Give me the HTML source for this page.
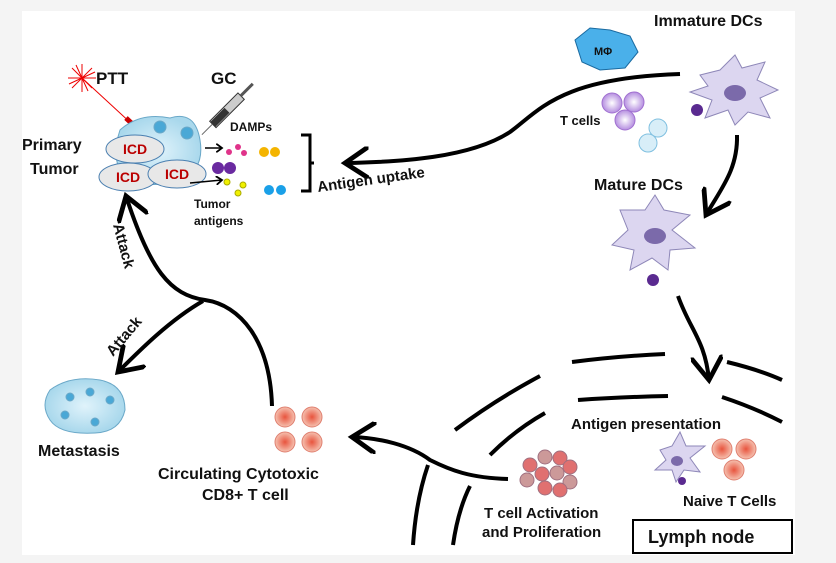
<!DOCTYPE html>
<html><head><style>
body{margin:0;width:836px;height:563px;background:#f4f4f4;overflow:hidden;font-family:"Liberation Sans",Arial,sans-serif;}
svg{position:absolute;left:0;top:0}
text{font-family:"Liberation Sans",Arial,sans-serif;font-weight:bold;fill:#111}
</style></head><body>
<svg width="836" height="563" viewBox="0 0 836 563">
<defs>
<marker id="a" markerWidth="6" markerHeight="6" refX="4" refY="3" orient="auto" markerUnits="strokeWidth"><path d="M0,0 L4,3 L0,6" fill="none" stroke="#000" stroke-width="1.2"/></marker>
<marker id="s" markerWidth="8" markerHeight="8" refX="6" refY="4" orient="auto" markerUnits="strokeWidth"><path d="M0,0 L6,4 L0,8" fill="none" stroke="#000" stroke-width="1.2"/></marker>
<radialGradient id="blue"><stop offset="0" stop-color="#e0f3fb"/><stop offset="1" stop-color="#a9d8ec"/></radialGradient>
<radialGradient id="red"><stop offset="0" stop-color="#e8543e"/><stop offset="1" stop-color="#f5c1b0"/></radialGradient>
<radialGradient id="pur"><stop offset="0" stop-color="#fff"/><stop offset="1" stop-color="#b58ee0"/></radialGradient>
</defs>
<rect x="22" y="11" width="773" height="544" fill="#fff"/>
<!-- laser -->
<g stroke="#e00" stroke-width="1">
<line x1="68" y1="78" x2="96" y2="78"/><line x1="82" y1="64" x2="82" y2="92"/><line x1="72" y1="68" x2="92" y2="88"/><line x1="72" y1="88" x2="92" y2="68"/><line x1="76" y1="65" x2="88" y2="91"/><line x1="69" y1="84" x2="95" y2="72"/>
<line x1="82" y1="78" x2="160" y2="150"/></g>
<line x1="126" y1="118" x2="160" y2="150" stroke="#c00" stroke-width="5"/>
<!-- tumor cells -->
<g fill="url(#blue)" stroke="#6aa8c8">
<path d="M120 130 Q140 112 170 118 Q195 110 200 140 Q205 170 180 180 Q150 190 125 178 Q110 160 120 130Z"/>
<circle cx="160" cy="127" r="6" fill="#4aa8d6"/><circle cx="187" cy="133" r="6" fill="#4aa8d6"/>
</g>
<g fill="#e8e8e8" stroke="#4a7fb0" stroke-width="1">
<ellipse cx="135" cy="149" rx="29" ry="14"/><ellipse cx="128" cy="177" rx="29" ry="14"/><ellipse cx="177" cy="174" rx="29" ry="14"/></g>
<g font-size="14" text-anchor="middle"><text x="135" y="154" fill="#b00" style="fill:#b00">ICD</text><text x="128" y="182" style="fill:#b00">ICD</text><text x="177" y="179" style="fill:#b00">ICD</text></g>
<!-- syringe -->
<g transform="rotate(-45 233 105)"><rect x="205" y="100" width="40" height="9" fill="#ccc" stroke="#333"/><rect x="205" y="101" width="20" height="7" fill="#333"/><line x1="245" y1="104" x2="262" y2="104" stroke="#555" stroke-width="3"/><line x1="205" y1="104" x2="190" y2="104" stroke="#666"/></g>
<text x="96" y="84" font-size="17">PTT</text>
<text x="211" y="84" font-size="17">GC</text>
<text x="22" y="150" font-size="16">Primary</text>
<text x="30" y="174" font-size="16">Tumor</text>
<text x="230" y="131" font-size="12">DAMPs</text>
<text x="194" y="208" font-size="12">Tumor</text>
<text x="194" y="225" font-size="12">antigens</text>
<g stroke="#000" stroke-width="1.5" fill="none"><line x1="205" y1="148" x2="222" y2="148" marker-end="url(#a)"/><line x1="190" y1="183" x2="222" y2="180" marker-end="url(#a)"/></g>
<circle cx="229" cy="152" r="3" fill="#e0338a"/><circle cx="238" cy="147" r="3" fill="#e0338a"/><circle cx="244" cy="153" r="3" fill="#e0338a"/>
<circle cx="264" cy="152" r="5" fill="#f4b400"/><circle cx="275" cy="152" r="5" fill="#f4b400"/>
<circle cx="218" cy="168" r="6" fill="#6a2aa0"/><circle cx="230" cy="168" r="6" fill="#6a2aa0"/>
<circle cx="227" cy="182" r="3" fill="#f0f000" stroke="#aa0"/><circle cx="243" cy="185" r="3" fill="#f0f000" stroke="#aa0"/><circle cx="238" cy="193" r="3" fill="#f0f000" stroke="#aa0"/>
<circle cx="269" cy="190" r="5" fill="#1aa0e8"/><circle cx="281" cy="190" r="5" fill="#1aa0e8"/>
<path d="M301 135 H310 V191 H301 M310 163 H314" fill="none" stroke="#000" stroke-width="3"/>
<!-- big arrows -->
<g stroke="#000" stroke-width="4" fill="none" marker-end="url(#s)">
<path d="M680 74 C560 78 540 110 510 132 C470 158 400 162 345 163"/>
<path d="M737 135 C738 170 720 190 706 215"/>
<path d="M678 296 C690 330 705 340 709 380"/>
<path d="M508 479 C470 478 450 470 430 460 C410 445 380 438 352 437"/>
<path d="M272 406 C270 340 240 305 205 300 C170 295 150 270 126 196"/>
<path d="M203 301 C170 320 140 350 118 372"/>
</g>
<g stroke="#000" stroke-width="4" fill="none">
<path d="M455 430 Q495 400 540 376"/><path d="M572 362 Q620 356 665 354"/><path d="M727 362 Q760 370 782 380"/>
<path d="M490 455 Q515 430 545 413"/><path d="M578 400 Q620 397 668 396"/><path d="M722 397 Q755 408 782 422"/>
<path d="M413 545 Q416 500 428 465"/><path d="M453 545 Q458 510 470 486"/>
</g>
<text x="318" y="192" font-size="15" transform="rotate(-8 318 192)">Antigen uptake</text>
<text x="0" y="0" font-size="15" transform="translate(113 225) rotate(75)">Attack</text>
<text x="0" y="0" font-size="15" transform="translate(113 357) rotate(-50)">Attack</text>
<!-- DC cells -->
<g fill="#dcd6f0" stroke="#8e87b8">
<path d="M700 75 L720 70 L735 55 L742 68 L765 62 L757 80 L778 90 L760 98 L770 118 L748 112 L735 125 L728 110 L705 118 L712 100 L690 92 L708 86Z"/>
<path d="M620 210 L645 210 L655 195 L664 210 L690 215 L672 230 L695 248 L670 250 L668 270 L652 258 L630 270 L634 250 L612 245 L628 230Z"/>
<path d="M660 450 L672 446 L680 432 L686 446 L705 446 L690 458 L700 472 L684 470 L676 482 L672 470 L655 470 L666 460Z"/>
</g>
<ellipse cx="735" cy="93" rx="11" ry="8" fill="#7b6aaa"/><circle cx="697" cy="110" r="6" fill="#5a2a90"/>
<ellipse cx="655" cy="236" rx="11" ry="8" fill="#7b6aaa"/><circle cx="653" cy="280" r="6" fill="#5a2a90"/>
<ellipse cx="677" cy="461" rx="6" ry="5" fill="#7b6aaa"/><circle cx="682" cy="481" r="4" fill="#5a2a90"/>
<path d="M575 40 L590 28 L610 30 L630 36 L638 52 L625 68 L600 70 L582 62Z" fill="#4ab0ea" stroke="#1a6aa0"/>
<text x="594" y="55" font-size="11">MΦ</text>
<g stroke="#a070d0"><circle cx="612" cy="103" r="10" fill="url(#pur)"/><circle cx="634" cy="102" r="10" fill="url(#pur)"/><circle cx="625" cy="120" r="10" fill="url(#pur)"/></g>
<g stroke="#80c0e0"><circle cx="658" cy="128" r="9" fill="#d8eef8"/><circle cx="648" cy="143" r="9" fill="#d8eef8"/></g>
<text x="654" y="26" font-size="16">Immature DCs</text>
<text x="560" y="125" font-size="13">T cells</text>
<text x="594" y="190" font-size="16">Mature DCs</text>
<!-- metastasis -->
<g fill="url(#blue)" stroke="#6aa8c8"><path d="M50 390 Q70 375 100 380 Q125 385 125 410 Q120 432 95 433 Q60 435 50 420 Q40 405 50 390Z"/>
<circle cx="70" cy="397" r="4" fill="#4aa8d6"/><circle cx="90" cy="392" r="4" fill="#4aa8d6"/><circle cx="110" cy="400" r="4" fill="#4aa8d6"/><circle cx="65" cy="415" r="4" fill="#4aa8d6"/><circle cx="95" cy="422" r="4" fill="#4aa8d6"/></g>
<text x="38" y="456" font-size="16">Metastasis</text>
<!-- T cells red -->
<g fill="url(#red)" stroke="#e08070"><circle cx="285" cy="417" r="10"/><circle cx="312" cy="417" r="10"/><circle cx="285" cy="442" r="10"/><circle cx="312" cy="442" r="10"/>
<circle cx="722" cy="449" r="10"/><circle cx="746" cy="449" r="10"/><circle cx="734" cy="470" r="10"/></g>
<g stroke="#a07080"><circle cx="530" cy="465" r="7" fill="#e07070"/><circle cx="545" cy="457" r="7" fill="#c99"/><circle cx="560" cy="458" r="7" fill="#e07070"/><circle cx="570" cy="467" r="7" fill="#e07070"/><circle cx="527" cy="480" r="7" fill="#c99"/><circle cx="542" cy="474" r="7" fill="#e07070"/><circle cx="557" cy="473" r="7" fill="#c99"/><circle cx="570" cy="482" r="7" fill="#c99"/><circle cx="545" cy="488" r="7" fill="#e07070"/><circle cx="560" cy="490" r="7" fill="#e07070"/></g>
<text x="158" y="479" font-size="16">Circulating Cytotoxic</text>
<text x="202" y="500" font-size="16">CD8+ T cell</text>
<text x="571" y="429" font-size="15">Antigen presentation</text>
<text x="683" y="506" font-size="15">Naive T Cells</text>
<text x="484" y="518" font-size="15">T cell Activation</text>
<text x="482" y="537" font-size="15">and Proliferation</text>
<rect x="633" y="520" width="159" height="33" fill="#fff" stroke="#000" stroke-width="2"/>
<text x="648" y="543" font-size="18">Lymph node</text>
</svg>
</body></html>
